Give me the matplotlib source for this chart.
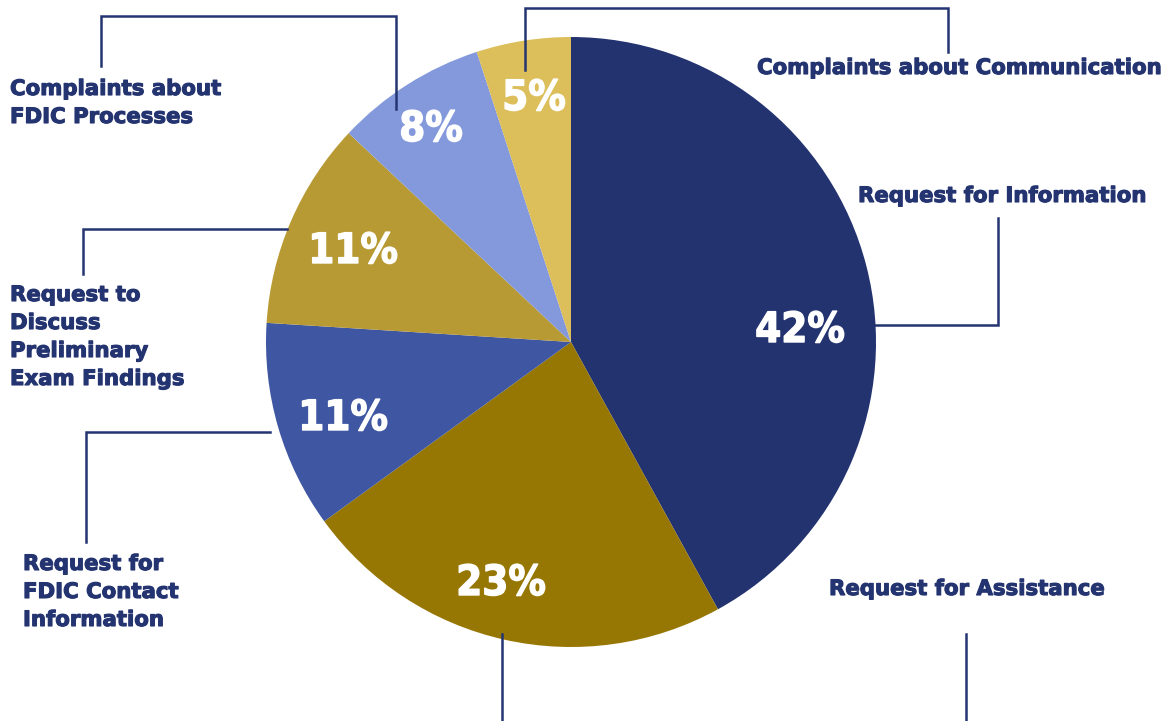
import matplotlib.pyplot as plt
import matplotlib.patheffects as pe

# slice data, clockwise from 12 o'clock
categories = ['Request for Information', 'Request for Assistance',
              'Request for FDIC Contact Information',
              'Request to Discuss Preliminary Exam Findings',
              'Complaints about FDIC Processes', 'Complaints about Communication']
shares = [42, 23, 11, 11, 8, 5]
colors = ['#233370', '#977704', '#3F57A2', '#B89A34', '#8399DC', '#DCBF5B']

navy = '#243470'

fig = plt.figure(figsize=(11.74, 7.21), dpi=100)
ax = fig.add_axes([0, 0, 1, 1])

# y axis runs downward (pixel-like), so "counterclock" in data space is clockwise on screen
wedges, texts, autotexts = ax.pie(
    shares, colors=colors, startangle=-90, counterclock=True,
    center=(571, 342), radius=305, autopct='%d%%', pctdistance=0.7,
    wedgeprops=dict(linewidth=0), frame=True)
ax.set_xlim(0, 1174)
ax.set_ylim(721, 0)
ax.set_aspect('equal')
ax.axis('off')

# where the percentages sit on each slice
pct_pos = [(800, 330), (501, 583), (343, 418), (353, 251), (431, 129), (534, 98)]
for t, p in zip(autotexts, pct_pos):
    t.set_position(p)
    t.set_color('white')
    t.set_fontsize(30)
    t.set_fontweight('bold')
    t.set_ha('center')
    t.set_va('center')
    t.set_family('DejaVu Sans')
    t.set_fontstretch('condensed')
    t.set_path_effects([pe.withStroke(linewidth=1.0, foreground='white')])

# leader lines
leaders = [
    ([396, 396, 101, 101], [109, 16, 16, 66]),
    ([525, 525, 948, 948], [70, 8, 8, 52]),
    ([875, 998, 998], [325, 325, 218]),
    ([287, 83, 83], [229, 229, 274]),
    ([270, 86, 86], [432, 432, 542]),
    ([502, 502], [634, 721]),
    ([966, 966], [634, 721]),
]
for xs, ys in leaders:
    ax.plot(xs, ys, color=navy, lw=1.8, solid_joinstyle='miter')

label_pos = [(858, 196), (829, 589), (23, 592), (10, 337), (10, 103), (757, 68)]
label_text = ['Request for Information', 'Request for Assistance',
              'Request for\nFDIC Contact\nInformation',
              'Request to\nDiscuss\nPreliminary\nExam Findings',
              'Complaints about\nFDIC Processes', 'Complaints about Communication']
for (x, y), s in zip(label_pos, label_text):
    ax.text(x, y, s, color=navy, fontsize=15.3, fontweight='bold',
            family='DejaVu Sans', ha='left', va='center', linespacing=1.5,
            path_effects=[pe.withStroke(linewidth=0.8, foreground=navy)])

fig.savefig('out.png', dpi=100)
